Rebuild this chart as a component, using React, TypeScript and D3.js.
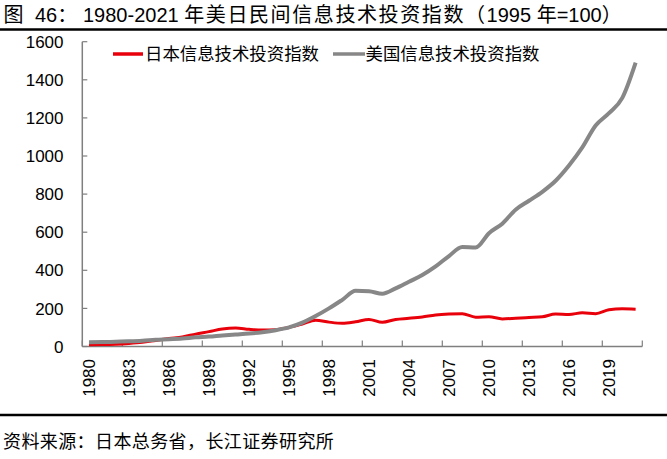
import React from "react";
import * as d3 from "d3";

// ─── Data ────────────────────────────────────────────────────────────────────
const years = d3.range(1980, 2022).map(String);
const japanIT = [
  9, 10, 12, 16, 22, 32, 42, 50, 65, 78, 92, 97, 90, 86, 88, 100, 118, 138, 128, 122, 130,
  142, 127, 142, 148, 155, 165, 170, 172, 154, 156, 145, 148, 152, 156, 170, 168, 177, 172,
  193, 198, 196,
];
const usIT = [
  22, 23, 25, 27, 30, 35, 38, 42, 48, 52, 58, 63, 68, 75, 85, 100, 125, 160, 200, 245, 292,
  290, 277, 305, 340, 375, 420, 475, 522, 520, 595, 645, 718, 765, 812, 870, 950, 1045, 1160,
  1225, 1305, 1490,
];
const yTicks = [0, 200, 400, 600, 800, 1000, 1200, 1400, 1600];
const xTickLabels = years.filter((_, i) => i % 3 === 0);

const SOURCE = "资料来源：日本总务省，长江证券研究所";
const LEGEND = ["日本信息技术投资指数", "美国信息技术投资指数"];

// ─── Design tokens ────────────────────────────────────────────────────────────
const W = 667;
const H = 459;
const PLOT = { left: 82.3, right: 642.3, top: 41.7, bottom: 346.5 };
const RED = "#e8000b";
const GREY = "#878787";
const AXIS = "#7f7f7f";
const FONT = "'Liberation Sans', Arial, 'Noto Sans CJK SC', sans-serif";
const CJK_GAP = 1.6; // the original title's CJK glyphs sit on a wider pitch

export default function App() {
  const x = d3.scaleBand<string>().domain(years).range([PLOT.left, PLOT.right]);
  const y = d3.scaleLinear().domain([0, 1600]).range([PLOT.bottom, PLOT.top]);
  const cx = (yr: string) => (x(yr) ?? 0) + x.bandwidth() / 2;

  const line = d3
    .line<number>()
    .x((_, i) => cx(years[i]))
    .y((v) => y(v))
    .curve(d3.curveMonotoneX);

  // tick marks sit on band boundaries, every third category
  const xTickPos = d3.range(0, years.length + 1, 3).map((i) => PLOT.left + i * x.step());

  return (
    <svg
      width={W}
      height={H}
      style={{ position: "absolute", left: 0, top: 0, fontFamily: FONT, background: "#fff" }}
    >
      {/* title + rules */}
      <text y={22} fontSize={20} fill="#000">
        <tspan x={3.5}>图</tspan>
        <tspan x={35}>46</tspan>
        <tspan>：</tspan>
        <tspan x={83}>1980-2021 </tspan>
        <tspan letterSpacing={CJK_GAP}>年美日民间信息技术投资指数（</tspan>
        <tspan>1995 </tspan>
        <tspan>年</tspan>
        <tspan>=100</tspan>
        <tspan>）</tspan>
      </text>
      <line x1={0} x2={W} y1={29.5} y2={29.5} stroke="#000" strokeWidth={2.5} />
      <line x1={0} x2={W} y1={415} y2={415} stroke="#000" strokeWidth={2.5} />
      <text x={3} y={448} fontSize={18} letterSpacing={0.4} fill="#000">
        {SOURCE}
      </text>

      {/* y axis */}
      <line x1={PLOT.left} x2={PLOT.left} y1={PLOT.top} y2={PLOT.bottom} stroke={AXIS} strokeWidth={1.5} />
      {yTicks.map((t) => (
        <g key={t}>
          <line x1={PLOT.left} x2={PLOT.left + 5} y1={y(t)} y2={y(t)} stroke={AXIS} strokeWidth={1.2} />
          <text x={63.5} y={y(t)} dy="0.36em" textAnchor="end" fontSize={17} fill="#000">
            {t}
          </text>
        </g>
      ))}

      {/* x axis */}
      <line x1={PLOT.left} x2={PLOT.right} y1={PLOT.bottom} y2={PLOT.bottom} stroke={AXIS} strokeWidth={1.5} />
      {xTickPos.map((px, i) => (
        <line key={i} x1={px} x2={px} y1={PLOT.bottom} y2={PLOT.bottom - 6} stroke={AXIS} strokeWidth={1.2} />
      ))}
      {xTickLabels.map((yr) => (
        <text
          key={yr}
          transform={`translate(${cx(yr)},359) rotate(-90)`}
          dy="0.36em"
          textAnchor="end"
          fontSize={17}
          fill="#000"
        >
          {yr}
        </text>
      ))}

      {/* series */}
      <path d={line(japanIT) ?? ""} fill="none" stroke={RED} strokeWidth={3} />
      <path d={line(usIT) ?? ""} fill="none" stroke={GREY} strokeWidth={4} />

      {/* legend */}
      <line x1={113} x2={143} y1={54} y2={54} stroke={RED} strokeWidth={3.5} />
      <text x={145} y={54} dy="0.36em" fontSize={17.4} fill="#000">
        {LEGEND[0]}
      </text>
      <line x1={333} x2={365} y1={54} y2={54} stroke={GREY} strokeWidth={3.5} />
      <text x={365.5} y={54} dy="0.36em" fontSize={17.4} fill="#000">
        {LEGEND[1]}
      </text>
    </svg>
  );
}
